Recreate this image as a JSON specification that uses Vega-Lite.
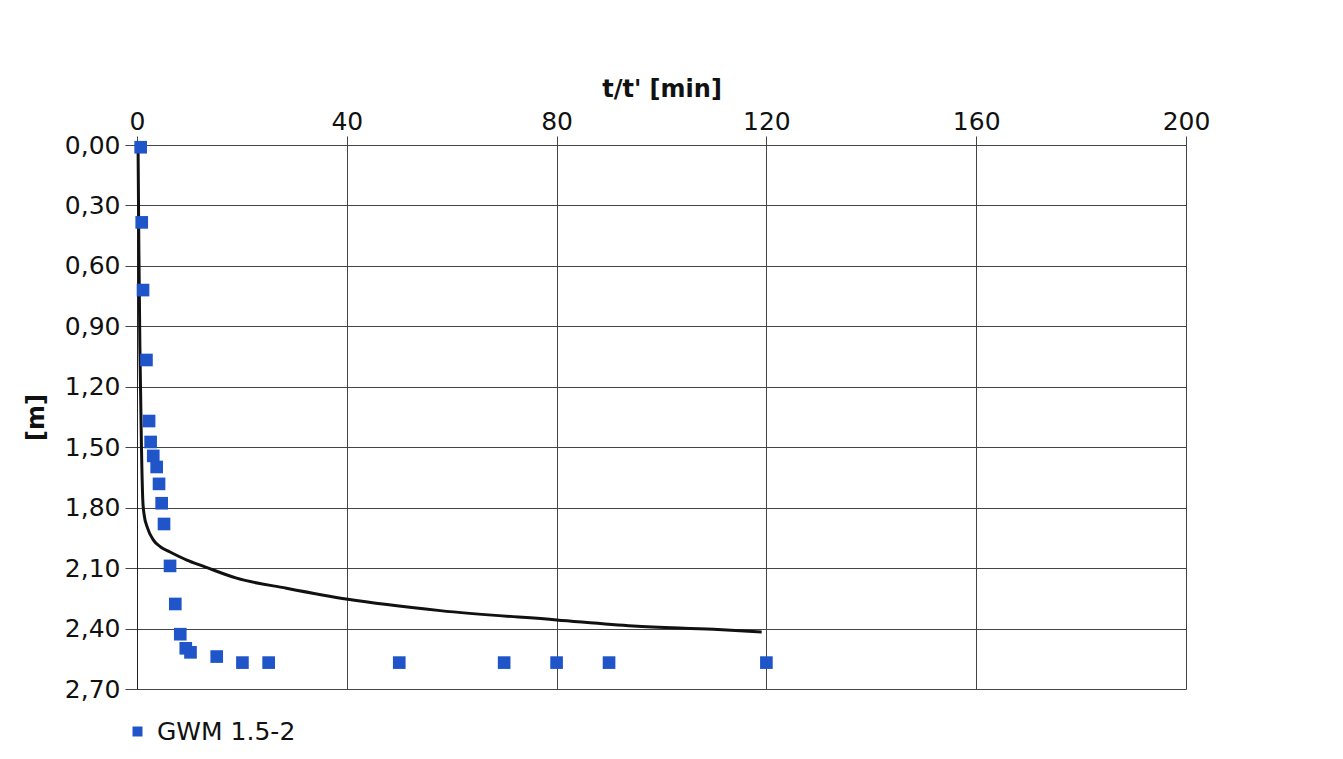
{
  "$schema": "https://vega.github.io/schema/vega-lite/v6.json",
  "width": 1049,
  "height": 544,
  "autosize": "none",
  "padding": {"left": 137, "top": 145, "right": 157, "bottom": 70},
  "background": "white",
  "config": {
    "font": "DejaVu Sans",
    "view": {"stroke": null},
    "axis": {
      "labelFont": "DejaVu Sans",
      "titleFont": "DejaVu Sans",
      "labelColor": "#111",
      "titleColor": "#111",
      "gridColor": "#444",
      "gridWidth": 1,
      "gridOpacity": 1,
      "tickColor": "#444",
      "domainColor": "#222",
      "labelFlush": false
    }
  },
  "datasets": {
    "obs": [
      {"t": 0.7, "d": 0.011},
      {"t": 0.9, "d": 0.384},
      {"t": 1.15, "d": 0.72},
      {"t": 1.8, "d": 1.067},
      {"t": 2.3, "d": 1.37},
      {"t": 2.6, "d": 1.474},
      {"t": 3.1, "d": 1.543},
      {"t": 3.75, "d": 1.598},
      {"t": 4.2, "d": 1.682},
      {"t": 4.7, "d": 1.778},
      {"t": 5.15, "d": 1.881},
      {"t": 6.3, "d": 2.089},
      {"t": 7.3, "d": 2.278},
      {"t": 8.25, "d": 2.428},
      {"t": 9.3, "d": 2.498},
      {"t": 10.2, "d": 2.518},
      {"t": 15.2, "d": 2.539},
      {"t": 20.1, "d": 2.569},
      {"t": 25.1, "d": 2.569},
      {"t": 50, "d": 2.569},
      {"t": 70, "d": 2.569},
      {"t": 80, "d": 2.569},
      {"t": 90, "d": 2.569},
      {"t": 120, "d": 2.569}
    ],
    "fit": [
      {"t": 0.2, "d": 0.0},
      {"t": 0.35, "d": 0.5},
      {"t": 0.55, "d": 1.0},
      {"t": 0.85, "d": 1.5},
      {"t": 1.1, "d": 1.76},
      {"t": 1.33, "d": 1.83},
      {"t": 2.0, "d": 1.9},
      {"t": 3.1, "d": 1.96},
      {"t": 4.5, "d": 1.995},
      {"t": 6.3, "d": 2.02},
      {"t": 9.5, "d": 2.06},
      {"t": 12.6, "d": 2.09},
      {"t": 19, "d": 2.15},
      {"t": 28.5, "d": 2.2},
      {"t": 40.2, "d": 2.255},
      {"t": 57.8, "d": 2.311},
      {"t": 80, "d": 2.357},
      {"t": 94.6, "d": 2.387},
      {"t": 109.9, "d": 2.404},
      {"t": 119.1, "d": 2.417}
    ]
  },
  "layer": [
    {
      "data": {"name": "fit"},
      "mark": {"type": "line", "color": "#111", "strokeWidth": 3, "interpolate": "monotone"},
      "encoding": {
        "x": {
          "field": "t", "type": "quantitative",
          "scale": {"domain": [0, 200], "nice": false},
          "axis": {
            "orient": "top", "title": "t/t' [min]", "values": [0, 40, 80, 120, 160, 200],
            "labelFontSize": 25, "titleFontSize": 24, "titleFontWeight": "bold",
            "tickSize": 9, "labelPadding": 2, "titlePadding": 8, "domain": false, "grid": true
          }
        },
        "y": {
          "field": "d", "type": "quantitative",
          "scale": {"domain": [0, 2.7], "nice": false, "reverse": true},
          "axis": {
            "title": "[m]", "values": [0, 0.3, 0.6, 0.9, 1.2, 1.5, 1.8, 2.1, 2.4, 2.7],
            "labelExpr": "replace(format(datum.value, '.2f'), '.', ',')",
            "labelFontSize": 25, "titleFontSize": 24, "titleFontWeight": "bold",
            "tickSize": 12, "labelPadding": 5, "titlePadding": 16, "grid": true, "domain": true
          }
        }
      }
    },
    {
      "data": {"name": "obs"},
      "transform": [{"calculate": "'GWM 1.5-2'", "as": "series"}],
      "mark": {"type": "point", "shape": "square", "filled": true, "size": 160, "opacity": 1},
      "encoding": {
        "x": {"field": "t", "type": "quantitative"},
        "y": {"field": "d", "type": "quantitative"},
        "color": {
          "field": "series", "type": "nominal",
          "scale": {"domain": ["GWM 1.5-2"], "range": ["#1f55c8"]},
          "legend": {
            "title": null, "orient": "none", "legendX": -12, "legendY": 574, "padding": 0,
            "labelFontSize": 25, "labelColor": "#111", "labelFont": "DejaVu Sans",
            "symbolSize": 100, "symbolType": "square", "labelOffset": 7,
            "symbolOpacity": 1
          }
        }
      }
    }
  ]
}
